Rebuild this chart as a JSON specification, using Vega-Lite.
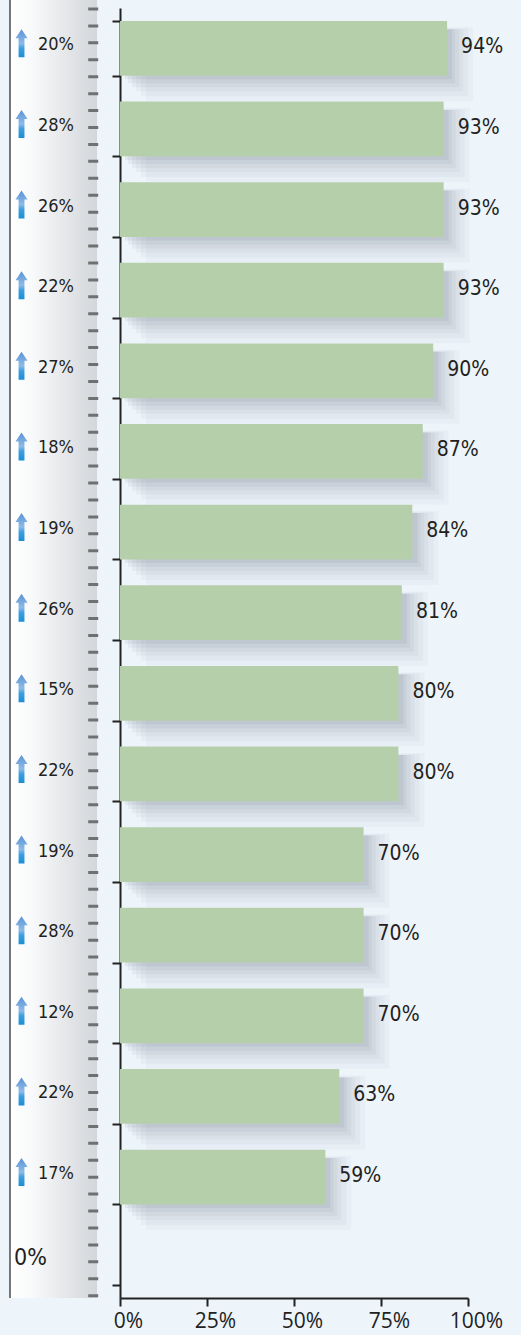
{
  "$schema": "https://vega.github.io/schema/vega-lite/v6.json",
  "width": 458,
  "height": 1298,
  "autosize": {"type": "none"},
  "padding": {"left": 10, "top": 0, "right": 53, "bottom": 37},
  "background": "#edf4fa",
  "config": {"view": {"stroke": null}, "axis": {"title": null}},
  "data": {"values": [
    {"cat": "c1", "v": 0.94, "chg": 0.20},
    {"cat": "c2", "v": 0.93, "chg": 0.28},
    {"cat": "c3", "v": 0.93, "chg": 0.26},
    {"cat": "c4", "v": 0.93, "chg": 0.22},
    {"cat": "c5", "v": 0.90, "chg": 0.27},
    {"cat": "c6", "v": 0.87, "chg": 0.18},
    {"cat": "c7", "v": 0.84, "chg": 0.19},
    {"cat": "c8", "v": 0.81, "chg": 0.26},
    {"cat": "c9", "v": 0.80, "chg": 0.15},
    {"cat": "c10", "v": 0.80, "chg": 0.22},
    {"cat": "c11", "v": 0.70, "chg": 0.19},
    {"cat": "c12", "v": 0.70, "chg": 0.28},
    {"cat": "c13", "v": 0.70, "chg": 0.12},
    {"cat": "c14", "v": 0.63, "chg": 0.22},
    {"cat": "c15", "v": 0.59, "chg": 0.17},
    {"cat": "c16", "v": null, "chg": 0}
  ]},
  "layer": [
    {
      "data": {"values": [{}]},
      "mark": {"type": "rect", "fill": {"gradient": "linear", "x1": 0, "y1": 0, "x2": 1, "y2": 0, "stops": [{"offset": 0, "color": "#ffffff"}, {"offset": 0.25, "color": "#f8f9fa"}, {"offset": 1, "color": "#d3d6da"}]}},
      "encoding": {
        "x": {"datum": -0.314, "type": "quantitative"},
        "x2": {"datum": -0.066}
      }
    },
    {
      "data": {"values": [{}]},
      "mark": {"type": "rule", "color": "#333333", "strokeWidth": 1.3},
      "encoding": {"x": {"datum": -0.3161, "type": "quantitative"}}
    },
    {
      "data": {"values": [{}]},
      "mark": {"type": "rule", "color": "#707070", "strokeWidth": 10, "strokeDash": [3, 13.93], "strokeDashOffset": 9.43},
      "encoding": {"x": {"datum": -0.077, "type": "quantitative"}}
    },
    {
      "transform": [{"filter": "datum.v != null"}],
      "mark": {"type": "bar", "color": "#6c7286", "opacity": 0.04, "xOffset": 26, "x2Offset": 8, "yOffset": 16, "height": 74},
      "encoding": {"x": {"field": "v", "type": "quantitative"}, "y": {"field": "cat", "type": "nominal", "sort": null}}
    },
    {
      "transform": [{"filter": "datum.v != null"}],
      "mark": {"type": "bar", "color": "#6c7286", "opacity": 0.05, "xOffset": 21, "x2Offset": 8, "yOffset": 14, "height": 68},
      "encoding": {"x": {"field": "v", "type": "quantitative"}, "y": {"field": "cat", "type": "nominal", "sort": null}}
    },
    {
      "transform": [{"filter": "datum.v != null"}],
      "mark": {"type": "bar", "color": "#6c7286", "opacity": 0.06, "xOffset": 16, "x2Offset": 9, "yOffset": 12, "height": 62},
      "encoding": {"x": {"field": "v", "type": "quantitative"}, "y": {"field": "cat", "type": "nominal", "sort": null}}
    },
    {
      "transform": [{"filter": "datum.v != null"}],
      "mark": {"type": "bar", "color": "#6c7286", "opacity": 0.07, "xOffset": 12, "x2Offset": 10, "yOffset": 10, "height": 58},
      "encoding": {"x": {"field": "v", "type": "quantitative"}, "y": {"field": "cat", "type": "nominal", "sort": null}}
    },
    {
      "transform": [{"filter": "datum.v != null"}],
      "mark": {"type": "bar", "color": "#6c7286", "opacity": 0.08, "xOffset": 8, "x2Offset": 12, "yOffset": 8, "height": 54},
      "encoding": {"x": {"field": "v", "type": "quantitative"}, "y": {"field": "cat", "type": "nominal", "sort": null}}
    },
    {
      "transform": [{"filter": "datum.v != null"}],
      "mark": {"type": "bar", "color": "#6c7286", "opacity": 0.1, "xOffset": 5, "x2Offset": 14, "yOffset": 6, "height": 50},
      "encoding": {"x": {"field": "v", "type": "quantitative"}, "y": {"field": "cat", "type": "nominal", "sort": null}}
    },
    {
      "transform": [{"filter": "datum.v != null"}],
      "mark": {"type": "bar", "color": "#b6cfab", "height": {"band": 1}},
      "encoding": {
        "x": {
          "field": "v", "type": "quantitative",
          "scale": {"domain": [0, 1], "range": [110, 458], "nice": false, "zero": false},
          "axis": {"values": [0, 0.25, 0.5, 0.75, 1], "format": ".0%", "grid": false, "labelFlush": false, "labelOverlap": false, "tickSize": 8, "tickWidth": 2, "tickColor": "#222222", "domainColor": "#222222", "domainWidth": 2, "labelFont": "Open Sans", "labelFontSize": 21, "labelColor": "#222222", "labelOffset": 8, "labelPadding": 4}
        },
        "y": {
          "field": "cat", "type": "nominal", "sort": null,
          "scale": {"range": [8, 1298], "paddingInner": 0.32, "paddingOuter": 0.16},
          "axis": {"labels": false, "tickBand": "extent", "tickSize": 8, "tickWidth": 2, "tickColor": "#222222", "domainColor": "#222222", "domainWidth": 2, "offset": -110}
        }
      }
    },
    {
      "transform": [{"filter": "datum.v != null"}],
      "mark": {"type": "text", "align": "left", "baseline": "middle", "dx": 14, "dy": -1, "fontSize": 21, "font": "DejaVu Sans Condensed, sans-serif", "color": "#231f20"},
      "encoding": {
        "x": {"field": "v", "type": "quantitative"},
        "y": {"field": "cat", "type": "nominal", "sort": null},
        "text": {"field": "v", "type": "quantitative", "format": ".0%"}
      }
    },
    {
      "transform": [{"filter": "datum.v != null"}],
      "mark": {"type": "text", "align": "left", "baseline": "middle", "dy": -3, "fontSize": 18, "font": "DejaVu Sans Condensed, sans-serif", "color": "#231f20"},
      "encoding": {
        "x": {"datum": -0.2356, "type": "quantitative"},
        "y": {"field": "cat", "type": "nominal", "sort": null},
        "text": {"field": "chg", "type": "quantitative", "format": ".0%"}
      }
    },
    {
      "transform": [{"filter": "datum.v == null"}],
      "mark": {"type": "text", "align": "left", "baseline": "middle", "fontSize": 23, "font": "DejaVu Sans Condensed, sans-serif", "color": "#231f20"},
      "encoding": {
        "x": {"datum": -0.3046, "type": "quantitative"},
        "y": {"field": "cat", "type": "nominal", "sort": null},
        "text": {"field": "chg", "type": "quantitative", "format": ".0%"}
      }
    },
    {
      "transform": [{"filter": "datum.v != null"}],
      "mark": {"type": "point", "filled": true, "opacity": 1, "strokeWidth": 0, "size": 784, "yOffset": -5,
        "shape": "M0,-1 L0.43,-0.36 L0.21,-0.36 L0.21,1 L-0.21,1 L-0.21,-0.36 L-0.43,-0.36 Z",
        "fill": {"gradient": "linear", "x1": 0, "y1": 0, "x2": 0, "y2": 1, "stops": [{"offset": 0, "color": "#5a93d6"}, {"offset": 0.5, "color": "#8dbbe6"}, {"offset": 0.68, "color": "#3d9ee0"}, {"offset": 1, "color": "#1a8fd6"}]}},
      "encoding": {
        "x": {"datum": -0.283, "type": "quantitative"},
        "y": {"field": "cat", "type": "nominal", "sort": null}
      }
    }
  ]
}
